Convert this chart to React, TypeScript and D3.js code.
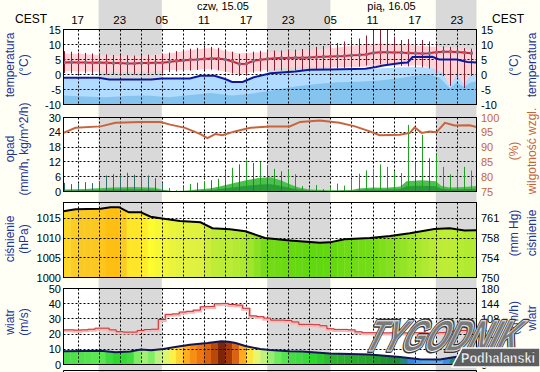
import * as d3 from "d3";

const W = 540;
const H = 372;
const FONT = "'Liberation Sans', Arial, sans-serif";

// time axis: hours counted from 15:00 CEST (14.05)
const hourSpan: [number, number] = [0, 58.8];
const hourTickAt = [2, 8, 14, 20, 26, 32, 38, 44, 50, 56];
const hourTickLabels = ["17", "23", "05", "11", "17", "23", "05", "11", "17", "23"];
const gridHours = [2, 5, 8, 11, 14, 17, 20, 23, 26, 29, 32, 35, 38, 41, 44, 47, 50, 53, 56];
const nightFrom = [5, 29, 53];
const nightTo = [14, 38, 58.8];
const dayLabels = ["czw, 15.05", "pią, 16.05"];
const dayLabelAt = [22.7, 46.7];

// temperature (°C), hourly from h0
const temperature = [
  4.0, 4.1, 4.0, 4.0, 3.9, 4.0, 3.9, 3.8, 3.8, 3.7,
  3.7, 3.8, 3.8, 3.9, 3.9, 4.2, 4.5, 4.7, 4.9, 5.0,
  5.2, 5.3, 5.3, 5.0, 4.4, 3.5, 3.6, 4.5, 4.9, 5.2,
  5.4, 5.5, 5.5, 5.6, 5.6, 5.7, 5.8, 5.9, 6.0, 6.1,
  6.2, 6.4, 6.5, 6.7, 7.2, 7.4, 7.4, 7.3, 7.3, 7.2,
  7.1, 7.0, 7.1, 7.4, 7.6, 7.6, 7.5, 7.3, 7.1,
];
const tempHigh = [
  7.8, 7.6, 7.3, 7.2, 7.0, 6.9, 6.7, 6.5, 6.6, 6.4,
  6.3, 6.5, 6.6, 6.5, 6.8, 7.3, 7.8, 8.2, 8.6, 8.9,
  9.1, 9.2, 8.9, 8.3, 7.6, 6.9, 7.0, 7.6, 7.9, 8.1,
  8.0, 8.0, 8.2, 8.3, 8.5, 8.8, 9.2, 9.5, 10.0, 10.5,
  11.0, 11.5, 12.0, 13.0, 14.8, 15.5, 15.3, 12.6, 11.5, 11.8,
  11.6, 11.5, 11.0, 9.8, 9.4, 9.2, 9.0, 8.8, 8.6,
];
const tempLow = [
  0.5, 0.4, 0.3, 0.4, 0.2, 0.3, 0.0, -0.1, 0.0, 0.1,
  0.0, 0.2, 0.3, 0.2, 0.4, 0.8, 1.0, 1.2, 1.3, 1.5,
  1.6, 1.6, 1.4, 1.0, 0.3, -0.5, -0.3, 0.6, 1.0, 1.2,
  1.3, 1.3, 1.4, 1.4, 1.5, 1.6, 1.7, 1.8, 1.9, 2.0,
  2.2, 2.4, 2.6, 3.0, 3.3, 3.4, 3.3, 3.0, 2.8, 2.7,
  2.6, 2.4, 2.0, 0.5, -0.5, -3.8, -0.8, -4.5, -0.5,
];
// [hour, low, high]
const tempSpread: [number, number, number][] = [
  [0, 1.2, 7.0], [3, 1.0, 6.8], [6, 1.0, 6.3], [9, 0.8, 6.2], [12, 1.0, 6.3],
  [15, 1.5, 7.0], [18, 1.5, 8.2], [21, 1.8, 8.8], [24, 0.5, 7.5], [25, 0.0, 7.0],
  [27, 1.0, 7.3], [30, 2.0, 7.5], [33, 2.3, 7.8], [36, 2.5, 8.3], [39, 2.5, 9.0],
  [42, 2.5, 9.8], [45, 3.0, 10.3], [48, 3.0, 10.2], [51, 3.0, 9.5], [53, 1.5, 9.2],
  [54, 0.5, 9.1], [55, -4.0, 9.0], [56, -0.5, 8.9], [57, -3.5, 8.7], [58, -0.5, 8.5],
  [58.8, -0.5, 8.4],
];
const dewPoint: [number, number][] = [
  [0, -1.1], [5, -1.1], [6.5, -1.7], [12.5, -1.7], [14, -1.3], [18, -1.3],
  [19.5, -0.4], [21.5, -0.4], [23, -1.5], [24, -2.5], [25.5, -2.5], [27, -1.0],
  [29.5, 0.4], [33, 1.0], [35, 1.6], [38, 1.7], [43, 1.9], [44.5, 2.5],
  [45.5, 3.0], [48, 3.8], [49, 4.0], [49.7, 5.8], [52.5, 5.9], [53.5, 5.0],
  [56, 5.0], [57.5, 4.2], [58.8, 4.0],
];
const dewLow: [number, number][] = [
  [0, -1.3], [5, -1.3], [6.5, -1.9], [12.5, -1.9], [14, -1.5], [18, -1.5],
  [19.5, -0.6], [21.5, -0.6], [23, -1.7], [24, -2.7], [25.5, -2.7], [27, -1.2],
  [29.5, 0.2], [33, 0.8], [35, 1.3], [38, 1.4], [42, 1.6], [45, 2.0], [48, 2.4],
  [51, 2.5], [53, 1.8], [54, 0.5], [55, -3.8], [56, 0.0], [57, -3.2], [58, -0.2],
  [58.8, 0.0],
];
const dewLower: [number, number][] = [
  [0, -7.0], [3, -7.3], [6, -7.6], [9, -7.2], [12, -7.0], [15, -7.6], [18, -6.8],
  [21, -6.2], [24, -7.0], [27, -6.3], [30, -5.2], [33, -4.0], [36, -3.2], [39, -2.6],
  [42, -2.4], [45, -2.0], [48, -1.2], [50, -0.4], [52, 0.0], [53.5, -1.0], [55, -4.6],
  [56, -2.6], [57, -4.2], [58, -2.6], [58.8, -2.3],
];

// precipitation (mm/h), hourly spikes, and humidity (%)
const precipTeal = [
  3.5, 3.0, 3.3, 3.8, 3.4, 4.2, 6.5, 7.0, 6.2, 7.6,
  6.8, 6.0, 6.5, 5.4, 3.6, 0, 0, 2.0, 0, 3.6,
  0, 4.6, 0, 8.0, 0, 11.0, 0, 11.6, 0, 10.4,
  0, 8.2, 0, 0, 0, 0, 0, 0, 0, 0,
  0, 0, 0, 0, 0, 0, 0, 0, 0, 0,
  12.0, 0, 13.5, 0, 0, 0, 0, 0, 0,
];
const precipGreen = [
  0, 0, 0, 0, 0, 0, 0, 0, 0, 0,
  0, 0, 0, 0, 0, 1.4, 0.5, 0, 3.0, 0,
  4.2, 0, 5.2, 0, 9.6, 0, 12.6, 0, 12.0, 0,
  9.2, 0, 8.6, 7.0, 2.2, 1.4, 2.6, 1.0, 2.0, 3.2,
  2.4, 5.0, 7.2, 8.6, 9.2, 11.0, 10.0, 8.0, 7.5, 27.0,
  0, 23.0, 0, 15.0, 10.0, 7.0, 8.2, 10.0, 8.5,
];
const precipArea: [number, number][] = [
  [0, 0.8], [3, 1.0], [5, 1.3], [7, 1.6], [10, 1.8], [13, 1.5], [14, 0.8], [15.5, 0.2],
  [17, 0.3], [19, 0.8], [21, 1.3], [22.5, 2.2], [24, 3.2], [26, 4.6], [28, 5.6],
  [29.5, 5.8], [31, 4.5], [32.5, 2.6], [33.5, 1.6], [35, 0.8], [38, 0.5], [41, 0.6],
  [42, 1.2], [44, 1.6], [46, 1.5], [48, 2.0], [48.8, 4.2], [51, 4.6], [53, 4.2],
  [53.8, 2.2], [55, 1.6], [57, 1.8], [58.8, 2.2],
];
const humidity: [number, number][] = [
  [0, 94.8], [1.7, 96.5], [5.3, 97.0], [7.4, 98.2], [11, 98.5], [13.8, 98.5],
  [15.2, 97.6], [17.3, 96.5], [19.5, 94.4], [20.5, 93.0], [21.6, 94.4], [22.6, 94.0],
  [24.4, 95.3], [26.6, 96.5], [29.4, 97.0], [32.2, 97.0], [33.7, 98.5], [36.5, 99.0],
  [39.3, 98.2], [41.5, 97.0], [43.6, 95.3], [45, 94.0], [47.9, 94.2], [49.3, 94.8],
  [50, 96.7], [51, 94.8], [52.1, 95.3], [53.1, 95.0], [54.3, 98.2], [55.7, 97.3],
  [57.8, 97.4], [58.8, 96.8],
];

// pressure (hPa)
const pressure: [number, number][] = [
  [0, 1016.8], [1.7, 1017.3], [5.3, 1017.4], [6.7, 1017.8], [7.9, 1017.8],
  [9.3, 1016.5], [11, 1016.5], [12.4, 1015.4], [13.8, 1015.0], [16.6, 1014.3],
  [19.5, 1014.0], [21.2, 1012.5], [23.7, 1012.2], [25.9, 1011.7], [28.7, 1010.0],
  [32.2, 1009.4], [36.5, 1008.8], [37.9, 1008.9], [40, 1009.7], [43.6, 1010.0],
  [46.5, 1010.5], [49.3, 1011.2], [52.8, 1012.3], [55, 1012.5], [57.1, 1011.9],
  [58.8, 1012.0],
];
const pressureTicks = [1015, 1010, 1005, 1000];
const pressureMmHg = ["761", "758", "754", "750"];

// wind (m/s): mean speed and gusts (hourly)
const windSpeed: [number, number][] = [
  [0, 8.7], [3, 8.9], [5.3, 9.1], [7.4, 8.0], [9.5, 8.5], [11, 9.8], [12.5, 9.4],
  [14.2, 10.2], [15.9, 11.5], [18, 13.0], [20.5, 14.1], [22.5, 15.3], [23.5, 15.0],
  [24.5, 14.1], [26, 12.0], [28, 10.2], [29.4, 9.6], [32.2, 8.7], [34, 8.5],
  [37.9, 7.2], [43.6, 6.5], [47.9, 5.0], [50.7, 3.5], [53.6, 3.3], [56.4, 5.4],
  [58.8, 7.0],
];
const windGust = [
  22.8, 22.8, 22.6, 22.8, 23.2, 23.9, 23.9, 22.8, 21.6, 21.3,
  21.3, 22.4, 23.0, 23.2, 29.6, 33.0, 33.3, 34.5, 35.0, 35.8,
  38.0, 38.2, 40.0, 40.2, 39.5, 39.1, 37.0, 32.0, 31.5, 30.5,
  29.2, 29.2, 29.0, 28.0, 26.4, 26.4, 26.2, 25.5, 23.5, 23.1,
  23.1, 22.8, 21.5, 20.9, 20.9, 20.9, 20.8, 20.9, 20.9, 20.8,
  20.9, 20.9, 20.7, 20.7, 21.0, 21.5, 22.0, 22.4, 23.0,
];

const NIGHT = "#d9d9d9";
const BG = "#fffff6";
const TITLE = "#22339a";
const HUM = "#c8643c";

const crisp = (v: number) => Math.round(v) + 0.5;

export default function App() {
  const x = d3.scaleLinear().domain(hourSpan).range([63.5, 476.5]);
  const x0 = x(hourSpan[0]);
  const x1 = x(hourSpan[1]);

  const yT = d3.scaleLinear().domain([-10, 15]).range([104.5, 29.5]);
  const yP = d3.scaleLinear().domain([0, 30]).range([191.5, 117.5]);
  const yH = d3.scaleLinear().domain([75, 100]).range([191.5, 117.5]);
  const yPr = d3.scaleLinear().domain([1000, 1019]).range([277.5, 202.5]);
  const yW = d3.scaleLinear().domain([0, 50]).range([364.5, 288.5]);

  const panels = [
    { top: 29.5, bottom: 104.5, grid: [10, 5, 0, -5].map(yT) },
    { top: 117.5, bottom: 191.5, grid: [24, 18, 12, 6].map(yP) },
    { top: 202.5, bottom: 277.5, grid: [1015, 1010, 1005].map(yPr) },
    { top: 288.5, bottom: 364.5, grid: [40, 30, 20, 10].map(yW) },
  ];
  const hours = d3.range(temperature.length);

  const line = (y: d3.ScaleLinear<number, number>) =>
    d3.line<[number, number]>().x((d) => x(d[0])).y((d) => y(d[1]));
  const areaUnder = (y: d3.ScaleLinear<number, number>, base: number) =>
    d3.area<[number, number]>().x((d) => x(d[0])).y0(base).y1((d) => y(d[1]));

  const spreadArea = d3
    .area<[number, number, number]>()
    .x((d) => x(d[0]))
    .y0((d) => yT(d[1]))
    .y1((d) => yT(d[2]));

  const tempLine = d3
    .line<number>()
    .x((_, i) => x(i))
    .y((d) => yT(d));

  const gustLine = d3
    .line<number>()
    .x((_, i) => x(i))
    .y((d) => yW(d))
    .curve(d3.curveStep);

  // colouring of pressure / wind columns
  const pressureAt = d3.scaleLinear().domain(pressure.map((d) => d[0])).range(pressure.map((d) => d[1]));
  const pressureColor = d3
    .scaleLinear<string>()
    .domain([1009, 1010, 1011, 1012.3, 1014.3, 1015.4, 1016.6, 1017.3, 1017.8])
    .range(["#62d80e", "#74dc16", "#96e426", "#bcec36", "#e4f240", "#fffb30", "#ffe428", "#faca24", "#ffbe10"])
    .clamp(true);
  const windAt = d3.scaleLinear().domain(windSpeed.map((d) => d[0])).range(windSpeed.map((d) => d[1]));
  const windColor = d3
    .scaleLinear<string>()
    .domain([3.3, 4.3, 5.0, 6.0, 7.0, 8.0, 8.7, 9.2, 9.8, 10.6, 11.3, 12.0, 12.8, 13.6, 14.3, 15.0, 15.4])
    .range([
      "#5aaef0", "#2a7ee0", "#1a8a3a", "#1e9a2a", "#2cb02c", "#2ad82a", "#48dc48", "#66ec58",
      "#b8f080", "#e4f870", "#fff040", "#ffd030", "#ffa41c", "#f07a10", "#d05a10", "#a83a08", "#6e1e08",
    ])
    .clamp(true);

  const columns = hours.map((h) => ({ h, a: x(h), b: x(Math.min(h + 1, hourSpan[1])) }));

  const leftTicks = (vals: (number | string)[], ys: number[], color = "#000") =>
    vals.map((v, i) => (
      <text key={`l${i}${v}`} x={61} y={ys[i] + 4} textAnchor="end" fontSize={11} fill={color}>
        {v}
      </text>
    ));
  const rightTicks = (vals: (number | string)[], ys: number[], color = "#000") =>
    vals.map((v, i) => (
      <text key={`r${i}${v}`} x={481} y={ys[i] + 4} fontSize={11} fill={color}>
        {v}
      </text>
    ));
  const vTitle = (lines: string[], xs: number[], cy: number, color = TITLE) =>
    lines.map((t, i) => (
      <text
        key={t}
        transform={`translate(${xs[i]},${cy}) rotate(-90)`}
        textAnchor="middle"
        fontSize={12}
        fill={color}
      >
        {t}
      </text>
    ));

  return (
    <svg width={W} height={H} style={{ position: "absolute", left: 0, top: 0 }} fontFamily={FONT}>
      <defs>
        <clipPath id="clipT">
          <rect x={x0} y={29.5} width={x1 - x0} height={75} />
        </clipPath>
        <clipPath id="clipP">
          <rect x={x0} y={117.5} width={x1 - x0} height={74} />
        </clipPath>
        <clipPath id="clipPr">
          <path d={areaUnder(yPr, 277.5)(pressure) ?? ""} />
        </clipPath>
        <clipPath id="clipW">
          <path d={areaUnder(yW, 364.5)(windSpeed) ?? ""} />
        </clipPath>
      </defs>

      <rect width={W} height={H} fill={BG} />
      {nightFrom.map((n, i) => (
        <rect key={`n${i}`} x={x(n)} y={0} width={x(nightTo[i]) - x(n)} height={H} fill={NIGHT} />
      ))}

      {/* panel backgrounds */}
      {[...panels, { top: 370.5, bottom: 380, grid: [] }].map((p, pi) => (
        <g key={`bg${pi}`}>
          <rect x={x0} y={p.top} width={x1 - x0} height={p.bottom - p.top} fill="#fff" />
          {nightFrom.map((n, i) => (
            <rect key={i} x={x(n)} y={p.top} width={x(nightTo[i]) - x(n)} height={p.bottom - p.top} fill={NIGHT} />
          ))}
        </g>
      ))}

      {/* temperature fills */}
      <g clipPath="url(#clipT)">
        <path d={spreadArea(tempSpread) ?? ""} fill="#ffd2d8" />
        <path d={areaUnder(yT, 104.5)(dewLow) ?? ""} fill="#b2dcff" />
        <path d={areaUnder(yT, 104.5)(dewLower) ?? ""} fill="#86c4f0" />
      </g>

      {/* precipitation fills */}
      <g clipPath="url(#clipP)">
        <path d={areaUnder(yP, 191.5)(precipArea) ?? ""} fill="#4cc04c" />
        <path
          d={areaUnder(yP, 191.5)(precipArea.map((d) => [d[0], d[1] * 0.5] as [number, number])) ?? ""}
          fill="#2a9a3a"
        />
      </g>

      {/* pressure fill */}
      <g clipPath="url(#clipPr)">
        {columns.map((c) => (
          <rect key={c.h} x={c.a} y={202.5} width={c.b - c.a + 0.3} height={75} fill={pressureColor(pressureAt(c.h + 0.5))} />
        ))}
      </g>

      {/* wind fill */}
      <g clipPath="url(#clipW)">
        {columns.map((c) => (
          <rect key={c.h} x={c.a} y={288.5} width={c.b - c.a + 0.3} height={76} fill={windColor(windAt(c.h + 0.5))} />
        ))}
      </g>

      {/* dotted grid */}
      {panels.map((p, pi) => (
        <g key={`g${pi}`} stroke="#000" strokeDasharray="2,2" strokeWidth={1}>
          {p.grid.map((gy, i) => (
            <line key={`h${i}`} x1={x0} x2={x1} y1={crisp(gy - 0.5)} y2={crisp(gy - 0.5)} />
          ))}
          {gridHours.map((g) => (
            <line key={`v${g}`} x1={crisp(x(g))} x2={crisp(x(g))} y1={p.top} y2={p.bottom} />
          ))}
        </g>
      ))}

      {/* temperature marks */}
      <g clipPath="url(#clipT)">
        {hours.map((h) => (
          <line
            key={h}
            x1={crisp(x(h))}
            x2={crisp(x(h))}
            y1={yT(tempLow[h])}
            y2={yT(tempHigh[h])}
            stroke="#8a1c30"
            strokeWidth={1}
          />
        ))}
        <path d={tempLine(temperature) ?? ""} fill="none" stroke="#d42030" strokeWidth={2} />
        {hours.map((h) => (
          <rect key={h} x={crisp(x(h)) - 1.5} y={yT(temperature[h]) - 1.5} width={3} height={3} fill="#8c7088" />
        ))}
        <path d={line(yT)(dewPoint) ?? ""} fill="none" stroke="#0a1aa0" strokeWidth={2} />
      </g>

      {/* precipitation spikes and humidity */}
      <g clipPath="url(#clipP)">
        {hours.map((h) =>
          precipTeal[h] > 0 ? (
            <line key={`t${h}`} x1={crisp(x(h))} x2={crisp(x(h))} y1={yP(0)} y2={yP(precipTeal[h])} stroke="#2e6e64" strokeWidth={1} />
          ) : null
        )}
        {hours.map((h) =>
          precipGreen[h] > 0 ? (
            <line key={`g${h}`} x1={crisp(x(h))} x2={crisp(x(h))} y1={yP(0)} y2={yP(precipGreen[h])} stroke="#20a020" strokeWidth={1} />
          ) : null
        )}
        <path d={line(yH)(humidity) ?? ""} fill="none" stroke={HUM} strokeWidth={2} />
      </g>

      {/* pressure line */}
      <path d={line(yPr)(pressure) ?? ""} fill="none" stroke="#000" strokeWidth={2} />

      {/* wind lines */}
      <path d={gustLine(windGust) ?? ""} fill="none" stroke="#f6b8b8" strokeWidth={3} transform="translate(0,1)" />
      <path d={gustLine(windGust) ?? ""} fill="none" stroke="#c83030" strokeWidth={1} />
      <path d={line(yW)(windSpeed) ?? ""} fill="none" stroke="#141450" strokeWidth={2} />

      {/* panel borders */}
      {panels.map((p, pi) => (
        <rect key={`b${pi}`} x={x0} y={p.top} width={x1 - x0} height={p.bottom - p.top} fill="none" stroke="#000" />
      ))}
      <line x1={x0} x2={x1} y1={370.5} y2={370.5} stroke="#000" />
      <line x1={x0} x2={x0} y1={370.5} y2={H} stroke="#000" />
      <line x1={x1} x2={x1} y1={370.5} y2={H} stroke="#000" />

      {/* header */}
      <text x={15} y={23} fontSize={12}>CEST</text>
      <text x={492} y={23} fontSize={12}>CEST</text>
      {hourTickAt.map((h, i) => (
        <text key={`ht${i}`} x={x(h)} y={23.5} textAnchor="middle" fontSize={11.5}>
          {hourTickLabels[i]}
        </text>
      ))}
      {dayLabels.map((d, i) => (
        <text key={d} x={x(dayLabelAt[i])} y={10} textAnchor="middle" fontSize={11}>
          {d}
        </text>
      ))}

      {/* axes labels */}
      {leftTicks([15, 10, 5, 0, -5, -10], [15, 10, 5, 0, -5, -10].map(yT))}
      {rightTicks([15, 10, 5, 0, -5, -10], [15, 10, 5, 0, -5, -10].map(yT))}
      {leftTicks([30, 24, 18, 12, 6, 0], [30, 24, 18, 12, 6, 0].map(yP))}
      {rightTicks([100, 95, 90, 85, 80, 75], [100, 95, 90, 85, 80, 75].map(yH), HUM)}
      {leftTicks(pressureTicks, pressureTicks.map(yPr))}
      {rightTicks(pressureMmHg, pressureTicks.map(yPr))}
      {leftTicks([50, 40, 30, 20, 10, 0], [50, 40, 30, 20, 10, 0].map(yW))}
      {rightTicks([180, 144, 108, 72, 36, 0], [50, 40, 30, 20, 10, 0].map(yW))}

      {vTitle(["temperatura", "(°C)"], [14, 28], 65)}
      {vTitle(["(°C)", "temperatura"], [518, 536], 65)}
      {vTitle(["opad", "(mm/h, kg/m^2/h)"], [14, 28], 149)}
      {vTitle(["(%)", "wilgotność wzgl."], [518, 536], 151, HUM)}
      {vTitle(["ciśnienie", "(hPa)"], [14, 28], 239)}
      {vTitle(["(mm Hg)", "ciśnienie"], [518, 536], 233)}
      {vTitle(["wiatr", "(m/s)"], [14, 28], 322)}
      {vTitle(["(km/h)", "wiatr"], [518, 536], 318)}

      {/* logo */}
      <g transform="translate(362,351) skewX(-26)">
        <text
          x={0}
          y={0}
          fontSize={44}
          fontWeight={900}
          fill="#333"
          stroke="#333"
          strokeWidth={4}
          strokeLinejoin="round"
          textLength={152}
          lengthAdjust="spacingAndGlyphs"
        >
          TYGODNIK
        </text>
        <text
          x={0}
          y={0}
          fontSize={44}
          fontWeight={900}
          fill="#7a7a7a"
          stroke="#f0f0f0"
          strokeWidth={1}
          textLength={152}
          lengthAdjust="spacingAndGlyphs"
        >
          TYGODNIK
        </text>
      </g>
      <polygon points="462,348 540,348 540,367 452,367" fill="#5e5e5e" stroke="#ffffff" strokeWidth={1.5} />
      <text x={461} y={363} fontSize={15} fontWeight="bold" fill="#ffffff" stroke="#333" strokeWidth={0.4} textLength={74} lengthAdjust="spacingAndGlyphs">
        Podhalanski
      </text>
    </svg>
  );
}
